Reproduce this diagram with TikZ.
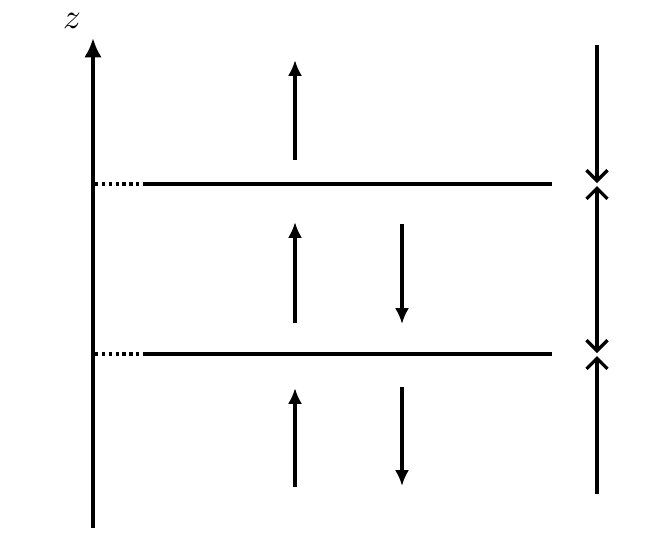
\documentclass[tikz,border=0pt]{standalone}
\usetikzlibrary{arrows.meta}
\begin{document}
\begin{tikzpicture}[x=0.02cm,y=-0.02cm]
		\tikzstyle{level} = [line width=1.9pt]
		\tikzstyle{flux} = [line width=1.9pt, -{Latex[length=9pt,width=8pt]}]
		\tikzstyle{span} = [line width=1.9pt]
		\tikzstyle{barb} = [line width=1.9pt]
		\useasboundingbox (0,0) rectangle (664,532);

		\coordinate (zbot) at (93,528);
		\coordinate (ztop) at (93,38);
		\draw[line width=2.8pt, -{Latex[length=11pt,width=10pt]}] (zbot) -- (ztop);
		\node[scale=2] (zlab) at (72,21) {$z$};

		\coordinate (dotA) at (95,184);
		\coordinate (lineA) at (145,184);
		\coordinate (endA) at (552,184);
		\coordinate (dotB) at (95,354);
		\coordinate (lineB) at (145,354);
		\coordinate (endB) at (552,354);
		\draw[level, dotted] (dotA) -- (lineA);
		\draw[level] (lineA) -- (endA);
		\draw[level, dotted] (dotB) -- (lineB);
		\draw[level] (lineB) -- (endB);

		\draw[flux] (295,160) -- (295,60);
		\draw[flux] (295,323) -- (295,222);
		\draw[flux] (295,487) -- (295,388);
		\draw[flux] (402,224) -- (402,324);
		\draw[flux] (402,387) -- (402,486);

		\draw[span, -{Straight Barb[length=6pt,width=12pt]}] (597,45) -- (597,183);
		\draw[span, {Straight Barb[length=6pt,width=12pt]}-{Straight Barb[length=6pt,width=12pt]}] (597,186) -- (597,353);
		\draw[span, {Straight Barb[length=6pt,width=12pt]}-] (597,356) -- (597,494);
	\end{tikzpicture}
\end{document}
